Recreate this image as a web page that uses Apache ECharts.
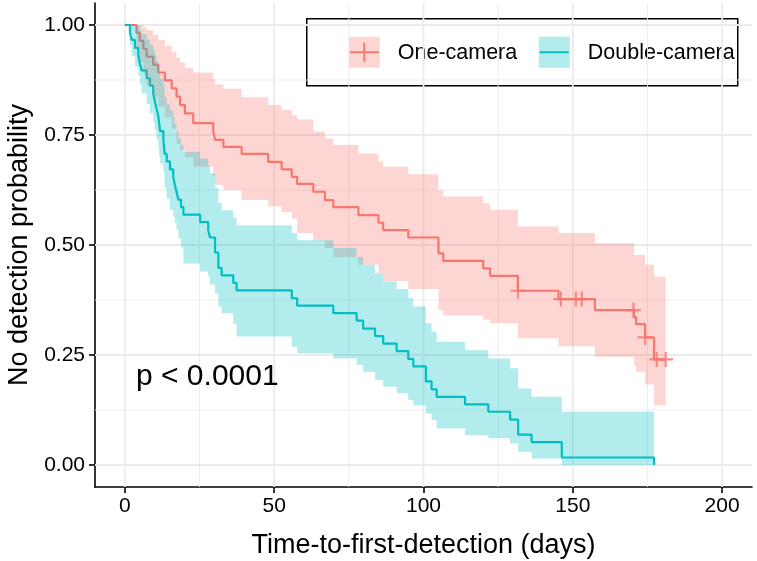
<!DOCTYPE html>
<html><head><meta charset="utf-8">
<script src="https://cdn.jsdelivr.net/npm/echarts@6/dist/echarts.min.js"></script>
<style>html,body{margin:0;padding:0;background:#fff}#c{width:757px;height:561px}</style>
</head><body><div id="c"></div>
<script>
// ---- One-camera (red) ----
const redTime  = [0, 3.9, 5.0, 6.2, 7.3, 9.5, 11.2, 13.4, 15.7, 17.3, 18.5, 20.1, 22.9, 29.6, 30.2, 33.0, 39.1, 48.0, 52.5, 55.9, 57.7, 63.1, 67.0, 69.8, 78.2, 84.9, 86.5, 94.9, 105.0, 106.6, 120.0, 122.3, 131.6, 145.2, 157.4, 170.5, 171.2, 174.2, 177.2];
const redSurv  = [1, 0.982, 0.964, 0.946, 0.928, 0.910, 0.892, 0.874, 0.856, 0.837, 0.818, 0.799, 0.777, 0.758, 0.739, 0.723, 0.707, 0.689, 0.672, 0.655, 0.639, 0.621, 0.602, 0.586, 0.568, 0.551, 0.534, 0.517, 0.481, 0.464, 0.447, 0.430, 0.396, 0.377, 0.352, 0.336, 0.320, 0.290, 0.240];
const redUpper = [1, 1, 1, 0.995, 0.988, 0.977, 0.966, 0.952, 0.940, 0.925, 0.915, 0.903, 0.892, 0.877, 0.865, 0.855, 0.836, 0.818, 0.807, 0.795, 0.785, 0.758, 0.742, 0.727, 0.708, 0.690, 0.678, 0.661, 0.625, 0.610, 0.595, 0.580, 0.542, 0.527, 0.504, 0.477, 0.477, 0.455, 0.428];
const redLower = [1, 0.947, 0.916, 0.888, 0.862, 0.837, 0.813, 0.790, 0.765, 0.730, 0.715, 0.700, 0.678, 0.657, 0.637, 0.625, 0.602, 0.588, 0.575, 0.560, 0.527, 0.510, 0.493, 0.473, 0.455, 0.436, 0.418, 0.400, 0.352, 0.340, 0.330, 0.322, 0.288, 0.270, 0.246, 0.225, 0.212, 0.183, 0.136];
const redLastTime = 181.1;
const redCensorTime = [131.6, 146.0, 151.0, 153.0, 170.3, 174.2, 178.1, 181.1];
const redCensorSurv = [0.396, 0.377, 0.377, 0.377, 0.352, 0.290, 0.240, 0.240];

// ---- Double-camera (teal) ----
const tealTime  = [0, 1.7, 2.3, 3.4, 4.5, 5.0, 5.6, 7.3, 8.4, 9.5, 10.0, 10.6, 11.2, 11.5, 11.8, 12.9, 13.3, 14.0, 15.1, 16.2, 16.7, 17.3, 17.9, 18.8, 19.6, 25.2, 27.9, 28.5, 30.2, 31.3, 32.4, 36.3, 37.4, 55.9, 57.7, 69.8, 77.6, 79.8, 83.8, 86.5, 91.0, 94.9, 96.6, 100.8, 102.7, 104.4, 113.9, 121.7, 129.0, 131.7, 136.2, 146.3, 177.2];
const tealSurv  = [1, 0.983, 0.966, 0.948, 0.931, 0.914, 0.897, 0.879, 0.862, 0.845, 0.828, 0.810, 0.793, 0.776, 0.759, 0.741, 0.707, 0.690, 0.672, 0.655, 0.638, 0.621, 0.603, 0.586, 0.569, 0.552, 0.534, 0.517, 0.483, 0.448, 0.431, 0.414, 0.397, 0.379, 0.362, 0.345, 0.328, 0.310, 0.293, 0.276, 0.259, 0.241, 0.224, 0.190, 0.172, 0.155, 0.138, 0.121, 0.103, 0.069, 0.052, 0.017, 0];
const tealUpper = [1, 1, 1, 1, 0.998, 0.989, 0.979, 0.967, 0.955, 0.943, 0.931, 0.918, 0.904, 0.891, 0.878, 0.865, 0.836, 0.820, 0.806, 0.790, 0.775, 0.759, 0.743, 0.727, 0.712, 0.696, 0.680, 0.663, 0.630, 0.596, 0.579, 0.562, 0.545, 0.527, 0.511, 0.493, 0.473, 0.455, 0.436, 0.417, 0.400, 0.379, 0.360, 0.322, 0.303, 0.280, 0.261, 0.242, 0.220, 0.174, 0.155, 0.121, 0.121];
const tealLower = [1, 0.955, 0.930, 0.905, 0.885, 0.865, 0.845, 0.820, 0.800, 0.780, 0.760, 0.740, 0.720, 0.700, 0.685, 0.665, 0.630, 0.605, 0.580, 0.565, 0.550, 0.535, 0.515, 0.495, 0.458, 0.440, 0.428, 0.410, 0.390, 0.360, 0.345, 0.320, 0.292, 0.269, 0.254, 0.242, 0.227, 0.212, 0.193, 0.178, 0.163, 0.148, 0.136, 0.117, 0.102, 0.083, 0.068, 0.061, 0.049, 0.030, 0.015, 0, 0];

// ---- axes / grid ----
const xRange = [-10, 210];
const yRange = [-0.05, 1.05];
const xMajor = [0, 50, 100, 150, 200];
const xMinor = [25, 75, 125, 175];
const yMajor = [0, 0.25, 0.5, 0.75, 1];
const yMinor = [0.125, 0.375, 0.625, 0.875];
const groupNames = ['One-camera', 'Double-camera'];
const pText = 'p < 0.0001';

const RED = '#F8766D', TEAL = '#00BFC4';
const FONT = '"Liberation Sans", Arial, Helvetica, sans-serif';

function pairs(xs, ys) { return xs.map((x, i) => [x, ys[i]]); }
const last = a => a[a.length - 1];

const redLine = pairs(redTime, redSurv).concat([[redLastTime, last(redSurv)]]);
const tealLine = pairs(tealTime, tealSurv);

// band polygon built through the axis scales (api.coord)
function bandSeries(times, upper, lower, endTime, color, z) {
  return {
    type: 'custom', coordinateSystem: 'cartesian2d', silent: true, z: z,
    data: [[times[0], upper[0]]],
    renderItem: function (params, api) {
      const pts = [];
      const n = times.length;
      for (let i = 0; i < n; i++) {
        const tNext = i < n - 1 ? times[i + 1] : endTime;
        pts.push(api.coord([times[i], upper[i]]));
        pts.push(api.coord([tNext, upper[i]]));
      }
      for (let i = n - 1; i >= 0; i--) {
        const tNext = i < n - 1 ? times[i + 1] : endTime;
        pts.push(api.coord([tNext, lower[i]]));
        pts.push(api.coord([times[i], lower[i]]));
      }
      return { type: 'polygon', shape: { points: pts }, style: { fill: color, stroke: null } };
    }
  };
}

function gridLine(data, w) {
  return { type: 'line', data: data, symbol: 'none', silent: true, z: 1,
    lineStyle: { color: '#EBEBEB', width: w } };
}
const series = [];
xMinor.forEach(v => series.push(gridLine([[v, yRange[0]], [v, yRange[1]]], 0.9)));
yMinor.forEach(v => series.push(gridLine([[xRange[0], v], [xRange[1], v]], 0.9)));
xMajor.forEach(v => series.push(gridLine([[v, yRange[0]], [v, yRange[1]]], 1.8)));
yMajor.forEach(v => series.push(gridLine([[xRange[0], v], [xRange[1], v]], 1.8)));

series.push({ name: groupNames[0], type: 'line', step: 'end', data: redLine, symbol: 'none', z: 2,
  lineStyle: { color: RED, width: 2.2 } });
series.push({ name: groupNames[1], type: 'line', step: 'end', data: tealLine, symbol: 'none', z: 2,
  lineStyle: { color: TEAL, width: 2.2 } });
series.push(bandSeries(redTime, redUpper, redLower, redLastTime, 'rgba(248,118,109,0.3)', 3));
series.push(bandSeries(tealTime, tealUpper, tealLower, last(tealTime), 'rgba(0,191,196,0.3)', 4));
series.push({ type: 'scatter', data: pairs(redCensorTime, redCensorSurv), z: 5,
  symbol: 'path://M6,0H8V6H14V8H8V14H6V8H0V6H6Z', symbolSize: 15, itemStyle: { color: RED } });

const chart = echarts.init(document.getElementById('c'), null, { renderer: 'canvas' });
chart.setOption({
  animation: false,
  backgroundColor: '#fff',
  grid: { left: 95, right: 5, top: 3, bottom: 74, outerBoundsMode: 'none', containLabel: false },
  xAxis: {
    type: 'value', min: xRange[0], max: xRange[1],
    splitLine: { show: false },
    axisLine: { onZero: false, lineStyle: { color: '#000', width: 1.6 } },
    axisTick: { customValues: xMajor, length: 6, lineStyle: { color: '#000', width: 1.6 } },
    axisLabel: { customValues: xMajor, fontSize: 21, color: '#000', margin: 9, fontFamily: FONT },
    name: 'Time-to-first-detection (days)', nameLocation: 'middle', nameGap: 45,
    nameTextStyle: { fontSize: 27, color: '#000', fontFamily: FONT }
  },
  yAxis: {
    type: 'value', min: yRange[0], max: yRange[1],
    splitLine: { show: false },
    axisLine: { onZero: false, lineStyle: { color: '#000', width: 1.6 } },
    axisTick: { customValues: yMajor, length: 6, lineStyle: { color: '#000', width: 1.6 } },
    axisLabel: { customValues: yMajor, fontSize: 21, color: '#000', margin: 10, fontFamily: FONT,
      formatter: v => v.toFixed(2) },
    name: 'No detection probability', nameLocation: 'middle', nameGap: 62, nameRotate: 90,
    nameTextStyle: { fontSize: 27, color: '#000', fontFamily: FONT }
  },
  series: series,
  graphic: [
    { type: 'text', left: 136, top: 362, z: 10, style: { text: pText, fill: '#000', font: '30px ' + FONT } },
    { type: 'group', left: 306, top: 18, z: 10, children: [
      { type: 'rect', shape: { x: 0, y: 0, width: 431, height: 67 }, style: { fill: '#fff', stroke: '#000', lineWidth: 1.5 } },
      { type: 'rect', shape: { x: 42, y: 18, width: 31, height: 31 }, style: { fill: 'rgba(248,118,109,0.3)' } },
      { type: 'line', shape: { x1: 43, y1: 33.5, x2: 72, y2: 33.5 }, style: { stroke: RED, lineWidth: 2 } },
      { type: 'line', shape: { x1: 57.5, y1: 24, x2: 57.5, y2: 43 }, style: { stroke: RED, lineWidth: 2 } },
      { type: 'text', x: 91, y: 34, style: { text: groupNames[0], font: '21.5px ' + FONT, fill: '#000', verticalAlign: 'middle' } },
      { type: 'rect', shape: { x: 232, y: 18, width: 31, height: 31 }, style: { fill: 'rgba(0,191,196,0.3)' } },
      { type: 'line', shape: { x1: 233, y1: 33.5, x2: 262, y2: 33.5 }, style: { stroke: TEAL, lineWidth: 2 } },
      { type: 'text', x: 281, y: 34, style: { text: groupNames[1], font: '21.5px ' + FONT, fill: '#000', verticalAlign: 'middle' } }
    ]}
  ]
});
</script></body></html>
